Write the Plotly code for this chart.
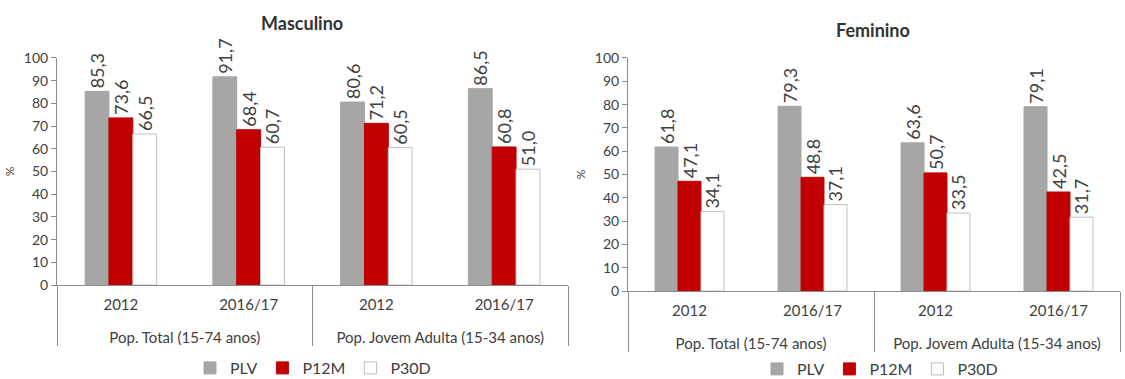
import plotly.graph_objects as go

# Categories (two-level x axis)
years = ["2012", "2016/17", "2012", "2016/17"]
populations = ["Pop. Total (15-74 anos)", "Pop. Total (15-74 anos)",
               "Pop. Jovem Adulta (15-34 anos)", "Pop. Jovem Adulta (15-34 anos)"]

series_names = ["PLV", "P12M", "P30D"]

# Masculino
masc_plv = [85.3, 91.7, 80.6, 86.5]
masc_p12m = [73.6, 68.4, 71.2, 60.8]
masc_p30d = [66.5, 60.7, 60.5, 51.0]

# Feminino
fem_plv = [61.8, 79.3, 63.6, 79.1]
fem_p12m = [47.1, 48.8, 50.7, 42.5]
fem_p30d = [34.1, 37.1, 33.5, 31.7]

y_ticks = list(range(0, 101, 10))

FONT = "Lato, 'Open Sans', sans-serif"
TXT = "#404040"
AXIS = "#8c8c8c"

fills = ["#A6A6A6", "#C00000", "#FFFFFF"]
lines = ["#A6A6A6", "#C00000", "#BFBFBF"]

# an empty short second line under each year widens the gap to the group row
year_labels = [y + "<br><span style='font-size:8px'> </span>" for y in years]
x_cats = [populations, year_labels]

fig = go.Figure()

panels = [
    ("x", "y", "legend", [masc_plv, masc_p12m, masc_p30d]),
    ("x2", "y2", "legend2", [fem_plv, fem_p12m, fem_p30d]),
]
for xa, ya, lg, vals in panels:
    for name, v, fc, lc in zip(series_names, vals, fills, lines):
        fig.add_trace(go.Bar(
            x=x_cats, y=v, name=name, xaxis=xa, yaxis=ya, legend=lg,
            marker=dict(color=fc, line=dict(color=lc, width=1)),
            texttemplate="%{y:.1f}", textposition="outside", textangle=-90,
            textfont=dict(family=FONT, size=18, color=TXT),
            cliponaxis=False, constraintext="none",
        ))

xcommon = dict(
    type="multicategory", showline=True, linecolor=AXIS, linewidth=1,
    showdividers=True, dividercolor=AXIS, dividerwidth=1,
    ticks="", ticklabelstandoff=6,
    tickfont=dict(family=FONT, size=15, color=TXT),
    showgrid=False, zeroline=False, automargin=False,
)
ycommon = dict(
    range=[0, 100], tickvals=y_ticks, showline=True, linecolor=AXIS,
    linewidth=1, ticks="outside", ticklen=5, tickcolor=AXIS,
    tickfont=dict(family=FONT, size=14, color=TXT), showgrid=False,
    zeroline=False, automargin=False,
    title=dict(text="%", font=dict(family=FONT, size=12, color=TXT), standoff=6),
)

legend_common = dict(
    orientation="h", yanchor="middle", xanchor="center",
    font=dict(family=FONT, size=16, color=TXT),
    itemwidth=30, tracegroupgap=0, bgcolor="rgba(0,0,0,0)",
)

fig.update_layout(
    width=1125, height=379,
    margin=dict(l=0, r=0, t=0, b=0, autoexpand=False),
    paper_bgcolor="white", plot_bgcolor="white",
    separators=",.",
    barmode="group", bargap=0.44, bargroupgap=0,
    showlegend=True,
    xaxis=dict(domain=[57 / 1125, 568 / 1125], anchor="y", **xcommon),
    yaxis=dict(domain=[0.248, 0.847], anchor="x", **ycommon),
    xaxis2=dict(domain=[628 / 1125, 1120 / 1125], anchor="y2", **xcommon),
    yaxis2=dict(domain=[0.232, 0.847], anchor="x2", **ycommon),
    legend=dict(x=313 / 1125, y=1 - 368 / 379, **legend_common),
    legend2=dict(x=880 / 1125, y=1 - 369 / 379, **legend_common),
    annotations=[
        dict(text="<b>Masculino</b>", x=302 / 1125, y=1 - 23 / 379,
             xref="paper", yref="paper", showarrow=False,
             xanchor="center", yanchor="middle",
             font=dict(family=FONT, size=18, color="#333333")),
        dict(text="<b>Feminino</b>", x=873 / 1125, y=1 - 30 / 379,
             xref="paper", yref="paper", showarrow=False,
             xanchor="center", yanchor="middle",
             font=dict(family=FONT, size=18, color="#333333")),
    ],
)

fig.write_html("out.html")
